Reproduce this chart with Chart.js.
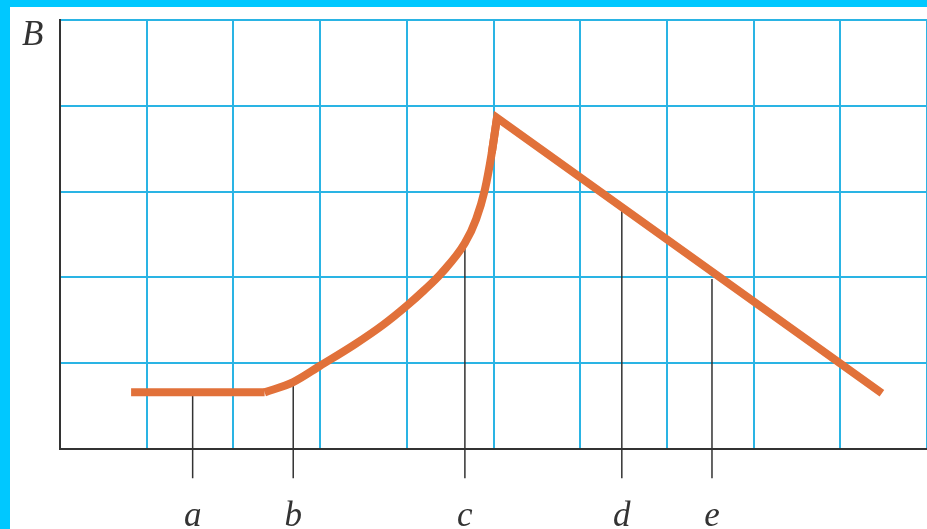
<!DOCTYPE html>
<html>
<head>
<meta charset="utf-8">
<script src="https://cdn.jsdelivr.net/npm/chart.js@4"></script>
<style>
	body { margin: 0; background: #00c8ff; }
	#marco { position: absolute; left: 10px; top: 7px; width: 917px; height: 522px; background: #fff; }
</style>
</head>
<body>
<div id="marco"><canvas id="grafico" width="917" height="522"></canvas></div>
<script>
// Tramo plano de B
const planoX = [0.82, 2.36];
const planoY = [0.66, 0.66];

// Tramo curvo (subida)
const subidaX = [2.36, 2.69, 3.0, 3.4, 3.73, 4.0, 4.2, 4.4, 4.67, 4.8, 4.9, 4.98, 5.04];
const subidaY = [0.66, 0.78, 0.97, 1.22, 1.45, 1.67, 1.85, 2.05, 2.40, 2.68, 3.02, 3.45, 3.86];

// Tramo recto (bajada)
const bajadaX = [4.98, 5.04, 9.48];
const bajadaY = [3.45, 3.86, 0.65];

// Marcas verticales a..e
const marcasX = [1.53, 2.69, 4.67, 6.48, 7.52];
const marcasY = [0.66, 0.78, 2.40, 2.79, 1.98];
const marcasTexto = ["a", "b", "c", "d", "e"];
const marcaFondo = -0.34;

const tituloY = "B";

const naranja = "#e1713a";
const cian = "#2ab4e4";
const oscuro = "#333333";

/**
 * Plugin que escribe las letras bajo el eje y la B del eje vertical
 */
const etiquetas = {
	id: "etiquetas",
	afterDraw: (chart) => {
		const { ctx, scales, chartArea } = chart;
		ctx.save();
		ctx.font = "italic 35px 'Liberation Serif'";
		ctx.fillStyle = oscuro;
		ctx.textBaseline = "alphabetic";
		ctx.textAlign = "center";
		marcasX.forEach((x, i) => {
			ctx.fillText(marcasTexto[i], scales.x.getPixelForValue(x), chartArea.bottom + 77);
		});
		ctx.textAlign = "left";
		ctx.fillText(tituloY, chartArea.left - 38, chartArea.top + 25);
		ctx.restore();
	},
};

const puntos = (xs, ys) => xs.map((x, i) => ({ x: x, y: ys[i] }));

// Tramos de la curva naranja
const tramo = (xs, ys, suave) => ({
	type: "line",
	data: puntos(xs, ys),
	borderColor: naranja,
	borderWidth: 8,
	borderCapStyle: "butt",
	borderJoinStyle: "miter",
	pointRadius: 0,
	cubicInterpolationMode: suave ? "monotone" : "default",
	tension: 0,
	order: 0,
});

const datasets = [
	tramo(planoX, planoY, false),
	tramo(subidaX, subidaY, true),
	tramo(bajadaX, bajadaY, false),
];

marcasX.forEach((x, i) => {
	datasets.push({
		type: "line",
		data: [
			{ x: x, y: marcasY[i] },
			{ x: x, y: marcaFondo },
		],
		borderColor: oscuro,
		borderWidth: 1.5,
		pointRadius: 0,
		clip: false,
		order: 1,
	});
});

const ctx = document.getElementById("grafico");

const graph = new Chart(ctx, {
	type: "scatter",
	data: { datasets: datasets },
	plugins: [etiquetas],
	options: {
		responsive: false,
		animation: false,
		layout: { padding: { left: 50, top: 13, right: 0, bottom: 80 } },
		plugins: {
			legend: { display: false },
			tooltip: { enabled: false },
		},
		scales: {
			x: {
				type: "linear",
				min: 0,
				max: 10,
				ticks: { display: false, stepSize: 1 },
				grid: {
					color: (c) => (c.tick && c.tick.value === 0 ? "rgba(0,0,0,0)" : cian),
					lineWidth: 2,
					drawTicks: false,
				},
				border: { color: oscuro, width: 2 },
				afterFit: (s) => {
					s.height = 0;
				},
			},
			y: {
				type: "linear",
				min: 0,
				max: 5,
				ticks: { display: false, stepSize: 1 },
				grid: {
					color: (c) => (c.tick && c.tick.value === 0 ? "rgba(0,0,0,0)" : cian),
					lineWidth: 2,
					drawTicks: false,
				},
				border: { color: oscuro, width: 2 },
				afterFit: (s) => {
					s.width = 0;
				},
			},
		},
	},
});
</script>
</body>
</html>
